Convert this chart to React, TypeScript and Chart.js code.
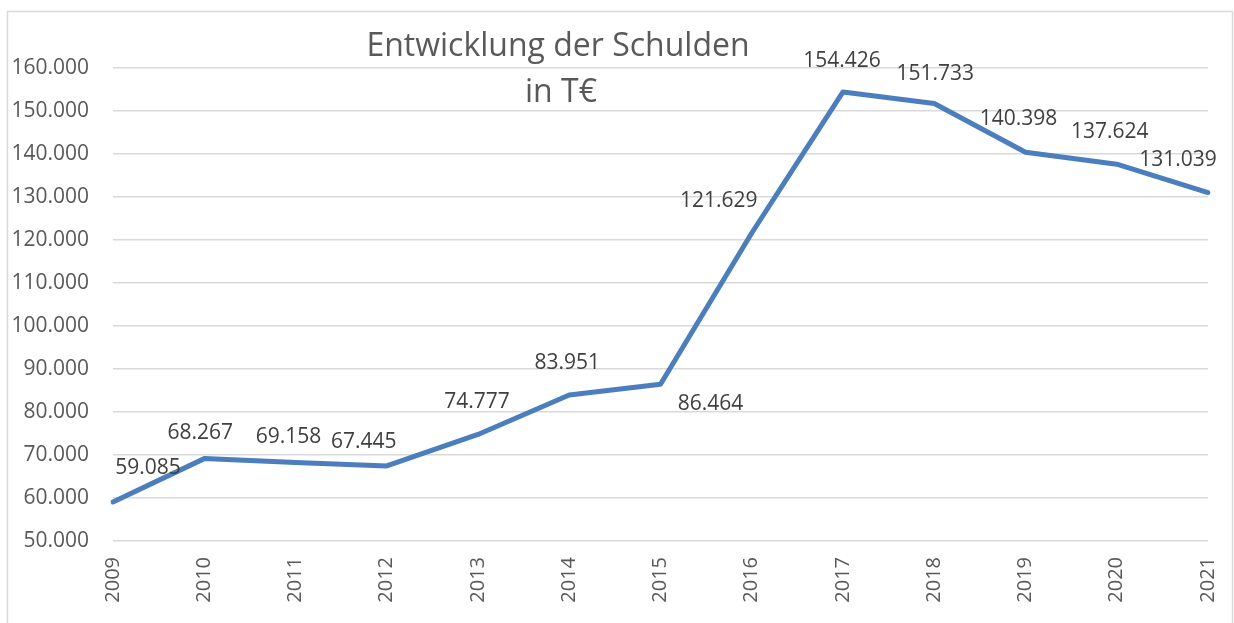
import React, { useEffect, useRef } from "react";
import { Chart, registerables } from "chart.js";

Chart.register(...registerables);

const years = ["2009", "2010", "2011", "2012", "2013", "2014", "2015", "2016", "2017", "2018", "2019", "2020", "2021"];
const debts = [59085, 69158, 68267, 67445, 74777, 83951, 86464, 121629, 154426, 151733, 140398, 137624, 131039];
const valueLabels = ["59.085", "68.267", "69.158", "67.445", "74.777", "83.951", "86.464", "121.629", "154.426", "151.733", "140.398", "137.624", "131.039"];
const titleLines = ["Entwicklung der Schulden", "in T€"];

// label offsets in pixels (style)
const labelDx = [35, -4, -7, -23, -1, -2, 50, -33, -1, 1, -7, -7, -30];
const labelDy = [-34, -26, -25, -24, -32, -32, 20, -32, -31, -30, -33, -32, -33];

const FONT = "'Open Sans', sans-serif";

const overlayPlugin = {
  id: "overlay",
  beforeDraw(chart: any) {
    const ctx = chart.ctx;
    ctx.save();
    ctx.fillStyle = "#ffffff";
    ctx.fillRect(0, 0, chart.width, chart.height);
    ctx.strokeStyle = "#d9d9d9";
    ctx.lineWidth = 1.5;
    ctx.strokeRect(7.5, 11.5, chart.width - 9, chart.height + 20);
    ctx.restore();
  },
  afterDraw(chart: any) {
    const ctx = chart.ctx;
    ctx.save();
    // title
    ctx.fillStyle = "#595959";
    ctx.font = `32px ${FONT}`;
    ctx.textAlign = "center";
    ctx.textBaseline = "middle";
    ctx.fillText(titleLines[0], 558, 47);
    ctx.fillText(titleLines[1], 561, 93);
    // data labels
    const meta = chart.getDatasetMeta(0);
    ctx.fillStyle = "#404040";
    ctx.font = `21px ${FONT}`;
    meta.data.forEach((pt: any, i: number) => {
      ctx.fillText(valueLabels[i], pt.x + labelDx[i], pt.y + labelDy[i]);
    });
    ctx.restore();
  },
};

export default function App() {
  const ref = useRef<HTMLCanvasElement | null>(null);
  useEffect(() => {
    if (!ref.current) return;
    const chart = new Chart(ref.current, {
      type: "line",
      data: {
        labels: years,
        datasets: [
          {
            data: debts,
            borderColor: "#4a7ebf",
            backgroundColor: "#4a7ebf",
            borderWidth: 5,
            pointRadius: 0,
            borderJoinStyle: "round",
            borderCapStyle: "round",
            tension: 0,
          },
        ],
      },
      options: {
        responsive: false,
        animation: false,
        maintainAspectRatio: false,
        layout: { padding: { left: 0, top: 68, right: 26, bottom: 0 } },
        plugins: { legend: { display: false }, title: { display: false }, tooltip: { enabled: false } },
        scales: {
          x: {
            offset: false,
            grid: { display: false, drawTicks: false },
            border: { display: false },
            ticks: {
              minRotation: 90,
              maxRotation: 90,
              padding: 16,
              color: "#595959",
              font: { family: FONT, size: 20 },
            },
            afterFit: (scale: any) => {
              scale.height = 82;
              scale.paddingLeft = 0;
              scale.paddingRight = 0;
            },
          },
          y: {
            min: 50000,
            max: 160000,
            grid: { color: "#d9d9d9", lineWidth: 1.5, drawTicks: false },
            border: { display: false },
            ticks: {
              stepSize: 10000,
              padding: 24,
              color: "#595959",
              font: { family: FONT, size: 21 },
              callback: (v: any) => Number(v).toLocaleString("de-DE", { minimumFractionDigits: 0 }).replace(/,/g, "."),
            },
            afterFit: (scale: any) => {
              scale.width = 113;
              scale.paddingTop = 0;
              scale.paddingBottom = 0;
            },
          },
        },
      },
      plugins: [overlayPlugin],
    });
    return () => chart.destroy();
  }, []);
  return (
    <div style={{ position: "fixed", left: 0, top: 0, width: 1234, height: 623, background: "#fff" }}>
      <canvas ref={ref} width={1234} height={623} style={{ width: 1234, height: 623, display: "block" }} />
    </div>
  );
}
